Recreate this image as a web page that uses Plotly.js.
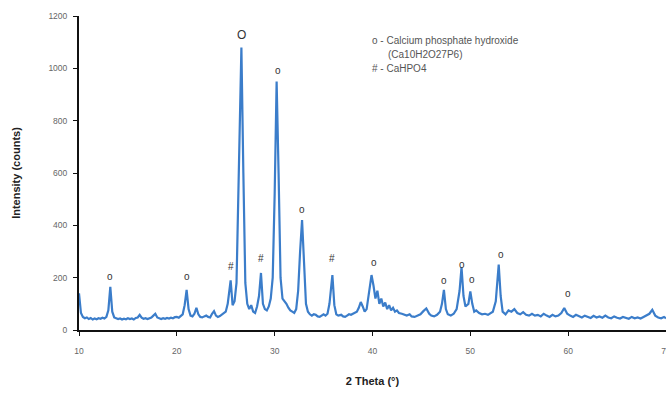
<!DOCTYPE html>
<html>
<head>
<meta charset="utf-8">
<script src="https://cdn.plot.ly/plotly-3.0.1.min.js"></script>
<style>html,body{margin:0;padding:0;background:#fff;}#chart{width:666px;height:397px;}</style>
</head>
<body>
<div id="chart"></div>
<script>
// 2 Theta (degrees)
const twoTheta = [
10.0,10.1,10.2,10.4,10.6,10.8,11.0,11.2,11.4,11.6,11.8,12.0,12.2,12.4,12.6,12.8,13.0,13.2,13.4,13.6,13.8,
14.0,14.2,14.4,14.6,14.8,15.0,15.2,15.4,15.6,15.8,16.0,16.2,16.4,16.6,16.8,17.0,17.2,17.4,17.6,17.8,
18.0,18.2,18.4,18.6,18.8,19.0,19.2,19.4,19.6,19.8,20.0,20.2,20.4,20.6,20.8,21.0,21.2,21.4,21.6,21.8,
22.0,22.2,22.4,22.6,22.8,23.0,23.2,23.4,23.6,23.8,24.0,24.2,24.4,24.6,24.8,25.0,25.2,25.5,25.7,25.9,
26.1,26.3,26.6,26.8,27.0,27.2,27.4,27.6,27.8,28.0,28.2,28.4,28.6,28.8,29.0,29.2,29.4,29.6,29.8,
30.0,30.2,30.4,30.6,30.8,31.0,31.2,31.4,31.6,31.8,32.0,32.2,32.4,32.6,32.8,33.0,33.2,33.4,33.6,33.8,
34.0,34.2,34.4,34.6,34.8,35.0,35.2,35.4,35.6,35.9,36.1,36.3,36.5,36.8,37.0,37.2,37.4,37.6,37.8,
38.0,38.2,38.4,38.6,38.8,39.0,39.2,39.4,39.6,39.9,40.1,40.3,40.5,40.7,40.9,41.1,41.3,41.5,41.7,41.9,
42.1,42.3,42.5,42.7,43.0,43.2,43.5,43.8,44.0,44.3,44.6,44.9,45.2,45.5,45.8,46.0,46.3,46.6,46.9,
47.1,47.3,47.5,47.7,48.0,48.3,48.6,48.9,49.1,49.3,49.5,49.8,50.0,50.2,50.4,50.6,50.9,51.2,51.5,51.8,
52.0,52.3,52.6,52.9,53.1,53.3,53.6,53.9,54.2,54.5,54.8,55.1,55.4,55.7,56.0,56.3,56.6,56.9,57.2,57.5,57.8,
58.1,58.4,58.7,59.0,59.3,59.6,59.9,60.2,60.5,60.8,61.1,61.4,61.7,62.0,62.3,62.6,62.9,63.2,63.5,63.8,
64.1,64.4,64.7,65.0,65.3,65.6,65.9,66.2,66.5,66.8,67.1,67.4,67.7,68.0,68.3,68.6,68.9,69.2,69.5,69.8,70.0
];
// Intensity (counts)
const intensity = [
140,90,65,50,45,48,42,46,40,44,41,45,43,47,44,50,75,165,70,48,45,
42,44,40,43,41,45,42,44,40,46,48,58,47,43,45,42,44,48,55,62,
48,44,42,45,43,46,44,47,45,49,50,47,52,60,95,153,80,55,52,62,
85,60,50,48,52,55,50,48,62,72,55,50,53,58,65,70,100,190,95,110,
180,520,1080,600,180,100,80,95,70,65,90,130,218,100,80,75,90,120,200,
520,950,600,200,120,110,100,85,75,70,65,80,150,300,420,260,100,70,60,55,
60,58,52,50,55,60,55,62,100,210,95,60,55,58,52,50,55,60,58,
62,65,70,85,107,90,70,80,130,210,170,120,150,100,120,90,105,80,95,75,
85,70,75,65,62,58,55,60,52,50,55,60,72,82,62,55,52,58,70,
100,153,80,60,55,62,80,150,240,130,90,100,147,100,70,75,65,60,62,58,
62,70,110,250,130,70,60,75,70,80,65,60,68,58,55,62,55,58,52,62,55,
50,58,52,55,65,84,62,55,50,58,52,48,55,50,46,54,48,52,47,55,
48,45,52,47,44,50,46,43,50,45,48,44,50,55,62,77,55,48,45,50,45
];
// Peak labels
const labelX = [13.2, 21.0, 25.5, 26.6, 28.6, 30.3, 32.8, 35.9, 40.2, 47.3, 49.1, 50.2, 53.1, 60.0];
const labelY = [205, 205, 242, 1128, 272, 992, 462, 272, 257, 190, 250, 192, 288, 140];
const labelText = ['o','o','#','O','#','o','o','#','o','o','o','o','o','o'];
const legendLines = ['o - Calcium phosphate hydroxide', '(Ca10H2O27P6)', '# - CaHPO4'];
const legendLeft = [370, 386, 370];

const FONT = 'Liberation Sans, Arial, sans-serif';
const annotations = labelX.map((x, i) => ({
  x: x, y: labelY[i], xref: 'x', yref: 'y', text: labelText[i], showarrow: false,
  font: {family: FONT, size: labelText[i] === 'O' ? 12 : 10, color: '#333'},
  yanchor: 'middle'
}));
const L = 79, R = 0, T = 16, B = 67, W = 666, H = 397;
legendLines.forEach((t, i) => {
  annotations.push({
    x: (legendLeft[i] - L) / (W - L - R), y: 1 - (41 + i * 14 - T) / (H - T - B),
    xref: 'paper', yref: 'paper', text: t, showarrow: false,
    xanchor: 'left', yanchor: 'middle',
    font: {family: FONT, size: 10, color: '#555'}
  });
});

const trace = {
  x: twoTheta, y: intensity, type: 'scatter', mode: 'lines',
  line: {color: '#3b7dca', width: 2.2}, hoverinfo: 'skip'
};

const layout = {
  width: W, height: H,
  margin: {l: L, r: R, t: T, b: B},
  paper_bgcolor: '#fff', plot_bgcolor: '#fff',
  showlegend: false,
  font: {family: FONT, color: '#555'},
  xaxis: {
    range: [10, 70], dtick: 10, tick0: 10, showgrid: false, zeroline: false,
    showline: true, linecolor: '#111', linewidth: 2,
    ticks: 'outside', ticklen: 4, tickcolor: '#111',
    ticklabelstandoff: 8, ticklabeloverflow: 'allow',
    tickfont: {size: 8.5, color: '#666'},
    title: {text: '2 Theta (°)', font: {size: 11, color: '#222', family: FONT, weight: 'bold'}, standoff: 22}
  },
  yaxis: {
    range: [0, 1200], dtick: 200, showgrid: false, zeroline: false,
    showline: true, linecolor: '#111', linewidth: 2,
    ticks: 'outside', ticklen: 4, tickcolor: '#111',
    ticklabelstandoff: 4,
    tickfont: {size: 8.5, color: '#666'},
    title: {text: 'Intensity (counts)', font: {size: 11, color: '#222', family: FONT, weight: 'bold'}, standoff: 26}
  },
  annotations: annotations
};

Plotly.newPlot('chart', [trace], layout, {displayModeBar: false, staticPlot: true});
</script>
</body>
</html>
